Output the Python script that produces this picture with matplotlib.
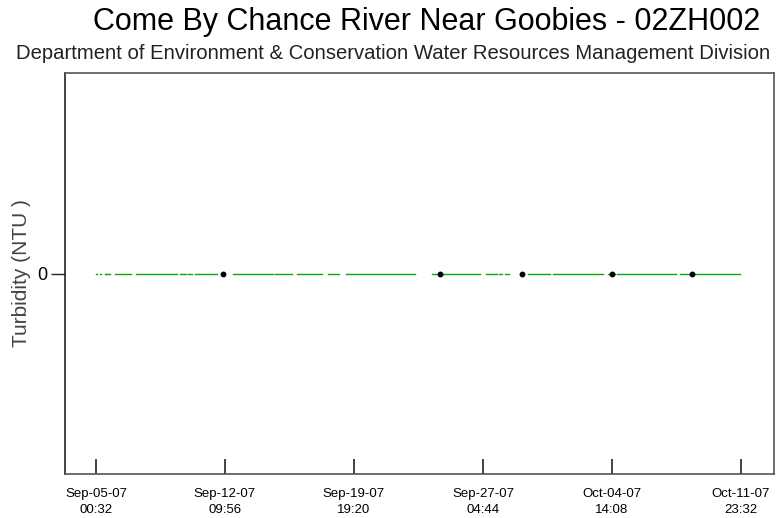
import matplotlib.pyplot as plt
import numpy as np
from datetime import datetime, timedelta

plt.rcParams['font.family'] = ['Liberation Sans', 'DejaVu Sans']

# continuous stretches of turbidity readings (start, end), all reading 0 NTU
seg_start = ['2007-09-05 00:32', '2007-09-05 06:00', '2007-09-05 13:00', '2007-09-05 15:00',
             '2007-09-06 02:38', '2007-09-07 07:32', '2007-09-09 20:02', '2007-09-10 07:02',
             '2007-09-10 16:38', '2007-09-12 21:20', '2007-09-15 06:44', '2007-09-16 13:00',
             '2007-09-18 07:30', '2007-09-19 08:20', '2007-09-20 11:50', '2007-09-21 08:26',
             '2007-09-24 06:32', '2007-09-24 17:32', '2007-09-27 08:50', '2007-09-28 02:44',
             '2007-09-28 10:56', '2007-09-29 18:32', '2007-10-01 05:00', '2007-10-04 08:32',
             '2007-10-04 21:00', '2007-10-08 11:35', '2007-10-09 05:32']
seg_end = ['2007-09-05 02:00', '2007-09-05 07:00', '2007-09-05 14:00', '2007-09-05 20:00',
           '2007-09-07 00:38', '2007-09-09 15:56', '2007-09-10 04:20', '2007-09-10 12:32',
           '2007-09-11 23:00', '2007-09-15 03:56', '2007-09-16 06:00', '2007-09-17 23:20',
           '2007-09-18 22:44', '2007-09-20 10:26', '2007-09-21 07:08', '2007-09-23 07:14',
           '2007-09-24 13:32', '2007-09-27 00:32', '2007-09-28 00:00', '2007-09-28 06:50',
           '2007-09-28 16:32', '2007-10-01 01:00', '2007-10-04 01:45', '2007-10-04 18:14',
           '2007-10-08 06:08', '2007-10-09 01:25', '2007-10-11 22:10']
seg_value = [0] * len(seg_start)

# single readings shown as dots
pt_time = ['2007-09-12 07:14', '2007-09-24 17:32', '2007-09-29 10:20',
           '2007-10-04 14:06', '2007-10-09 04:08']
pt_value = [0, 0, 0, 0, 0]

tick_labels = ['Sep-05-07\n00:32', 'Sep-12-07\n09:56', 'Sep-19-07\n19:20',
               'Sep-27-07\n04:44', 'Oct-04-07\n14:08', 'Oct-11-07\n23:32']

fmt = '%Y-%m-%d %H:%M'
xs, ys = [], []
for s, e, v in zip(seg_start, seg_end, seg_value):
    xs += [datetime.strptime(s, fmt), datetime.strptime(e, fmt), datetime.strptime(e, fmt)]
    ys += [v, v, np.nan]

fig = plt.figure(figsize=(7.78, 5.18), dpi=100)
ax = fig.add_axes([0.0835, 0.085, 0.9114, 0.774])

ax.plot(xs, ys, color='#2a922a', lw=1.0)
ax.plot([datetime.strptime(t, fmt) for t in pt_time], pt_value, 'o',
        color='black', ms=3.2, zorder=3)

ticks = [datetime.strptime(l.replace('\n', ' '), '%b-%d-%y %H:%M') for l in tick_labels]
ax.set_xticks(ticks)
ax.set_xticklabels(tick_labels, fontsize=9.5, linespacing=1.45)
ax.set_xlim(ticks[0] - timedelta(hours=42.6), ticks[0] + timedelta(hours=932.4))
ax.tick_params(axis='x', direction='in', length=11, width=1.2, pad=10, color='#222222')

ax.set_ylim(-1, 1)
ax.set_yticks([0])
ax.set_yticklabels(['0'], fontsize=13)
ax.tick_params(axis='y', direction='out', length=10, width=1.0, pad=3, color='#222222')
ax.set_ylabel('Turbidity (NTU )', fontsize=15, color='#444444', labelpad=4)

for sp in ax.spines.values():
    sp.set_color('#555555')
    sp.set_linewidth(1.2)
ax.spines['left'].set_color('#222222')

fig.text(0.548, 0.958, 'Come By Chance River Near Goobies - 02ZH002',
         ha='center', va='center', fontsize=22)
fig.text(0.505, 0.897, 'Department of Environment & Conservation Water Resources Management Division',
         ha='center', va='center', fontsize=14.6, color='#222222')

fig.savefig('out.png', dpi=100)
